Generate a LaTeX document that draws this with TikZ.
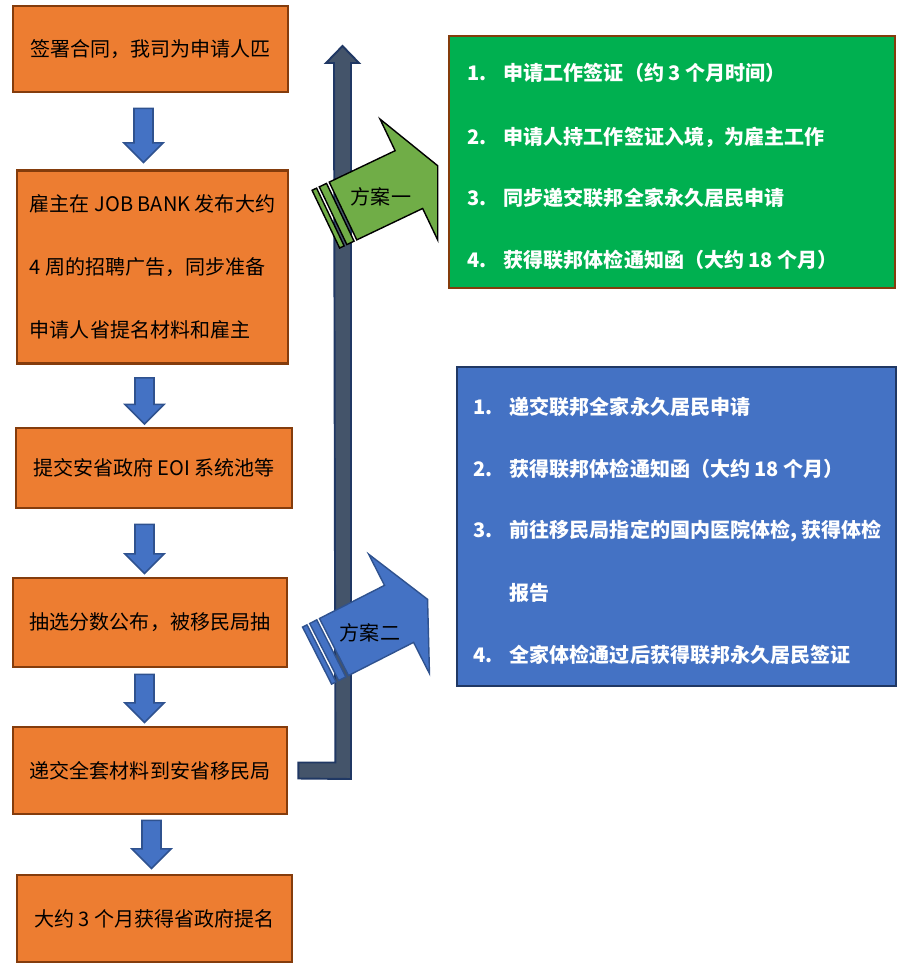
\documentclass[tikz,border=0pt]{standalone}
\usepackage{fontspec}
\setmainfont{Noto Sans CJK SC}
\usepackage{tikz}
\usetikzlibrary{calc}
\usepackage{xcolor}
\definecolor{steporange}{HTML}{ED7D31}
\definecolor{stepbrown}{HTML}{843C0C}
\definecolor{arrowblue}{HTML}{4472C4}
\definecolor{arrowedge}{HTML}{2F528F}
\definecolor{planedge}{HTML}{203864}
\definecolor{plangreen}{HTML}{00B050}
\definecolor{shaftgrey}{HTML}{44546A}
\definecolor{optgreen}{HTML}{70AD47}
\newcommand{\itemno}[1]{\makebox[0.73cm][l]{#1}}
\tikzset{
  flowbox/.style={
    draw=stepbrown,
    fill=steporange,
    line width=1.6pt,
    inner sep=0pt,
    align=center,
    font=\fontsize{11.4pt}{13.7pt}\selectfont
  },
  planbox/.style={
    line width=1.6pt,
    inner sep=0pt
  },
  planline/.style={
    anchor=west,
    inner sep=0pt,
    text=white,
    font=\fontsize{11.4pt}{13.7pt}\selectfont\bfseries
  },
  optlabel/.style={
    inner sep=0pt,
    font=\fontsize{11.4pt}{13.7pt}\selectfont
  },
  blockarrow/.style={
    fill=arrowblue,
    draw=arrowedge,
    line width=0.9pt
  },
  bararrow/.style={
    fill=shaftgrey,
    draw=planedge,
    line width=1.1pt
  },
  pics/dnarrow/.style={code={
    \path[blockarrow] (-9.5,0) -- (9.5,0) -- (9.5,{#1-19.5}) -- (19.5,{#1-19.5})
      -- (0,#1) -- (-19.5,{#1-19.5}) -- (-9.5,{#1-19.5}) -- cycle;
  }},
  pics/stripearrow/.style={code={
    \path[pic actions] (-19,-32) rectangle (-14,32);
    \path[pic actions] (-11,-32) rectangle (-3,32);
    \path[pic actions] (0,-32) -- (73,-32) -- (73,-67) -- (105,0)
      -- (73,67) -- (73,32) -- (0,32) -- cycle;
  }}
}

\begin{document}
\begin{tikzpicture}[x=0.02cm, y=-0.02cm]
\useasboundingbox (0,0) rectangle (914,973);

% left column
\node[flowbox, minimum width=5.5cm, minimum height=1.72cm] (sign) at (150.5,49) {签署合同，我司为申请人匹};
\node[flowbox, minimum width=5.42cm, minimum height=3.86cm, align=left,
  font=\fontsize{11.4pt}{35.7pt}\selectfont] (advert) at (152.5,267)
  {雇主在 JOB BANK 发布大约\\4 周的招聘广告，同步准备\\申请人省提名材料和雇主};
\node[flowbox, minimum width=5.52cm, minimum height=1.6cm] (eoi) at (154,468) {提交安省政府 EOI 系统池等};
\node[flowbox, minimum width=5.48cm, minimum height=1.78cm] (invite) at (150,622.5) {抽选分数公布，被移民局抽};
\node[flowbox, minimum width=5.48cm, minimum height=1.74cm] (submit) at (150,770.5) {递交全套材料到安省移民局};
\node[flowbox, minimum width=5.5cm, minimum height=1.74cm] (nominee) at (154.5,918.5) {大约 3 个月获得省政府提名};

\pic at ($(sign.south)+(-7,15)$) {dnarrow=54};
\pic at ($(advert.south)+(-8,13)$) {dnarrow=46};
\pic at ($(eoi.south)+(-9.5,15)$) {dnarrow=49};
\pic at ($(invite.south)+(-5.5,6)$) {dnarrow=48};
\pic at ($(submit.south)+(1.5,5)$) {dnarrow=48};

% upward bar
\coordinate (barfoot) at ($(submit.east)+(10,0)$);
\draw[bararrow] ($(barfoot)+(0,-8)$) -- ++(37,0) -- (334,63) -- ++(-8,0) -- (342.5,46)
  -- (359,63) -- ++(-8,0) -- (351,779) -- ($(barfoot)+(0,8)$) -- cycle;

% the two plans
\pic[draw=black, fill=optgreen, line width=0.8pt, rotate=25.5] at (343,211) {stripearrow};
\node[optlabel] (optone) at (381,197) {方案一};
\pic[draw=arrowedge, fill=arrowblue, line width=0.8pt, rotate=27] at (334,647) {stripearrow};
\node[optlabel] (opttwo) at (370,633) {方案二};

\node[planbox, draw=stepbrown, fill=plangreen, minimum width=8.92cm, minimum height=5.04cm] (planone) at (672,162) {};
\node[planline] (g1) at (467,73) {\itemno{1.}申请工作签证（约 3 个月时间）};
\node[planline] (g2) at (467,137) {\itemno{2.}申请人持工作签证入境，为雇主工作};
\node[planline] (g3) at (467,198) {\itemno{3.}同步递交联邦全家永久居民申请};
\node[planline] (g4) at (467,260) {\itemno{4.}获得联邦体检通知函（大约 18 个月）};

\node[planbox, draw=planedge, fill=arrowblue, minimum width=8.78cm, minimum height=6.38cm] (plantwo) at (676.5,526.5) {};
\node[planline] (b1) at (473,407) {\itemno{1.}递交联邦全家永久居民申请};
\node[planline] (b2) at (473,469) {\itemno{2.}获得联邦体检通知函（大约 18 个月）};
\node[planline] (b3) at (473,531) {\itemno{3.}前往移民局指定的国内医院体检, 获得体检};
\node[planline] (b3b) at (473,593) {\itemno{}报告};
\node[planline] (b4) at (473,655) {\itemno{4.}全家体检通过后获得联邦永久居民签证};
\end{tikzpicture}
\end{document}
